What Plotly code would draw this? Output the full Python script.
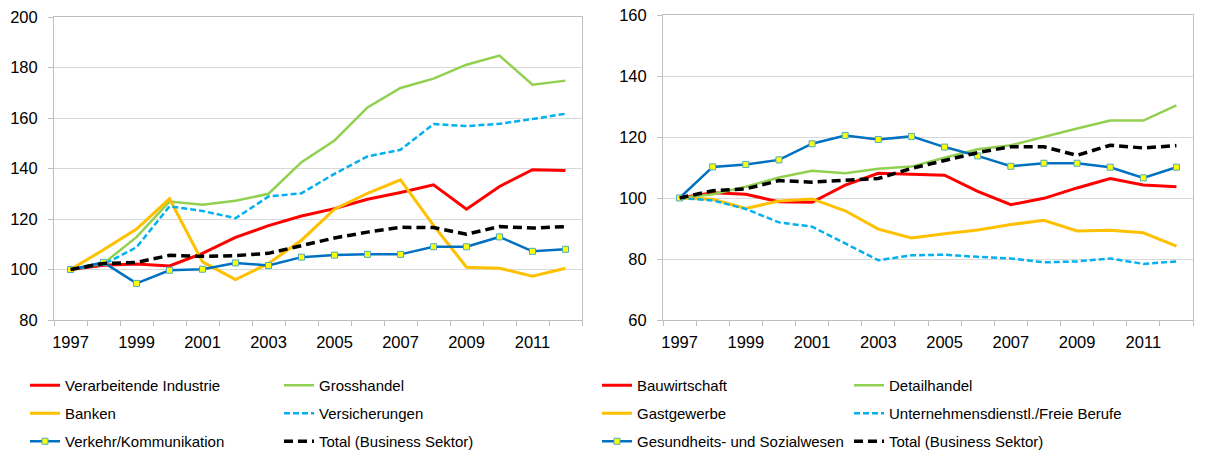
import plotly.graph_objects as go

years = list(range(1997, 2013))
tick_years = [1997, 1999, 2001, 2003, 2005, 2007, 2009, 2011]

# Left panel
verarbeitende = [100, 101.7, 102.2, 101.4, 106.4, 112.7, 117.4, 121.2, 124.1, 127.8, 130.5, 133.5, 123.9, 132.9, 139.5, 139.2]
grosshandel = [100, 102.4, 112.8, 126.9, 125.6, 127.2, 130.0, 142.5, 151.1, 164.2, 171.9, 175.6, 181.1, 184.7, 173.2, 174.8]
banken = [100, 107.8, 116.0, 128.0, 103.0, 96.0, 102.4, 111.6, 123.9, 130.2, 135.5, 117.5, 100.9, 100.5, 97.3, 100.5]
versicherungen = [100, 102.0, 108.8, 125.0, 123.2, 120.3, 128.9, 130.2, 137.9, 144.8, 147.4, 157.6, 156.8, 157.7, 159.6, 161.7]
verkehr = [100, 102.8, 94.5, 99.7, 100.1, 102.6, 101.6, 104.9, 105.7, 106.0, 106.0, 109.0, 109.0, 112.9, 107.2, 108.0]
total_left = [100, 102.4, 102.8, 105.6, 105.2, 105.5, 106.4, 109.6, 112.5, 114.8, 116.7, 116.6, 114.0, 117.0, 116.4, 117.0]

# Right panel
bauwirtschaft = [100, 101.7, 101.2, 98.8, 98.6, 104.2, 108.1, 107.7, 107.5, 102.2, 97.8, 99.9, 103.3, 106.4, 104.3, 103.7]
detailhandel = [100, 101.2, 103.7, 106.7, 108.9, 108.1, 109.6, 110.3, 113.2, 116.0, 117.3, 120.1, 122.8, 125.4, 125.4, 130.4]
gastgewerbe = [100, 99.6, 96.6, 99.0, 99.7, 95.8, 89.8, 86.9, 88.3, 89.5, 91.3, 92.7, 89.2, 89.4, 88.6, 84.2]
unternehmen = [100, 99.2, 96.4, 92.0, 90.6, 85.2, 79.6, 81.2, 81.4, 80.7, 80.2, 78.9, 79.2, 80.2, 78.4, 79.2]
gesundheit = [100, 110.2, 111.0, 112.5, 117.8, 120.5, 119.2, 120.2, 116.7, 113.8, 110.4, 111.4, 111.4, 110.1, 106.6, 110.1]
total_right = [100, 102.4, 103.0, 105.7, 105.2, 105.7, 106.4, 109.7, 112.2, 114.9, 116.8, 116.8, 114.0, 117.3, 116.4, 117.2]

FONT = "Liberation Sans, Arial, sans-serif"
FS = 15
TFS = 16.5
RED, GREEN, ORANGE, CYAN, BLUE = "#FF0000", "#92D050", "#FFC000", "#00B0F0", "#0070C0"

fig = go.Figure()


def add(name, y, color, width, dash, xa, ya, legend, markers=False):
    kw = dict(x=years, y=y, name=name, xaxis=xa, yaxis=ya, legend=legend,
              legendgroup=name + xa, line=dict(color=color, width=width, dash=dash))
    if markers:
        kw["mode"] = "lines+markers"
        kw["marker"] = dict(symbol="square", size=6, color="#FFFF00",
                            line=dict(color="#4BACC6", width=1))
    else:
        kw["mode"] = "lines"
    fig.add_trace(go.Scatter(**kw))


# left
add("Verarbeitende Industrie", verarbeitende, RED, 3, "solid", "x", "y", "legend")
add("Grosshandel", grosshandel, GREEN, 2.5, "solid", "x", "y", "legend2")
add("Banken", banken, ORANGE, 3, "solid", "x", "y", "legend")
add("Versicherungen", versicherungen, CYAN, 2.5, "6px,3px", "x", "y", "legend2")
add("Verkehr/Kommunikation", verkehr, BLUE, 2.5, "solid", "x", "y", "legend", markers=True)
add("Total (Business Sektor)", total_left, "#000000", 3.5, "9px,5px", "x", "y", "legend2")
# right
add("Bauwirtschaft", bauwirtschaft, RED, 3, "solid", "x2", "y2", "legend3")
add("Detailhandel", detailhandel, GREEN, 2.5, "solid", "x2", "y2", "legend4")
add("Gastgewerbe", gastgewerbe, ORANGE, 3, "solid", "x2", "y2", "legend3")
add("Unternehmensdienstl./Freie Berufe", unternehmen, CYAN, 2.5, "6px,3px", "x2", "y2", "legend4")
add("Gesundheits- und Sozialwesen", gesundheit, BLUE, 2.5, "solid", "x2", "y2", "legend3", markers=True)
add("Total (Business Sektor)", total_right, "#000000", 3.5, "9px,5px", "x2", "y2", "legend4")

L, R, T, B = 54, 13, 15, 130
W, H = 1206, 450
pw = W - L - R
ph = H - T - B


def px_x(p):
    return (p - L) / pw


def px_y(p):
    return (H - B - p) / ph


xcommon = dict(range=[1996.5, 2012.5], tickmode="array", tickvals=tick_years,
               ticktext=[str(v) for v in tick_years], ticks="", showgrid=False,
               showline=True, linecolor="#BFBFBF", linewidth=1, mirror=True,
               zeroline=False, tickfont=dict(family=FONT, size=TFS, color="#000"),
               ticklabelstandoff=7,
               minor=dict(tick0=1996.5, dtick=1, ticks="outside", ticklen=5,
                          tickcolor="#BFBFBF", showgrid=False))
ycommon = dict(dtick=20, showgrid=True, gridcolor="#D9D9D9", gridwidth=1,
               showline=True, linecolor="#BFBFBF", linewidth=1, mirror=True,
               zeroline=False, ticks="outside", ticklen=5, tickcolor="#BFBFBF",
               ticklabelstandoff=7,
               tickfont=dict(family=FONT, size=TFS, color="#000"))

leg = dict(font=dict(family=FONT, size=FS, color="#000"), bgcolor="rgba(0,0,0,0)",
           orientation="v", xanchor="left", yanchor="top", tracegroupgap=5.5,
           itemwidth=30)
ly = px_y(369)

fig.update_layout(
    width=W, height=H,
    margin=dict(l=L, r=R, t=T, b=B, autoexpand=False),
    paper_bgcolor="white", plot_bgcolor="white",
    font=dict(family=FONT, size=FS, color="#000"),
    xaxis=dict(domain=[0, px_x(582)], anchor="y", **xcommon),
    yaxis=dict(domain=[0, px_y(17)], anchor="x", range=[80, 200], **ycommon),
    xaxis2=dict(domain=[px_x(663), 1], anchor="y2", **xcommon),
    yaxis2=dict(domain=[0, 1], anchor="x2", range=[60, 160], **ycommon),
    legend=dict(x=px_x(25), y=ly, **leg),
    legend2=dict(x=px_x(279), y=ly, **leg),
    legend3=dict(x=px_x(597), y=ly, **leg),
    legend4=dict(x=px_x(849), y=ly, **leg),
)

fig.write_html("out.html", config={"displayModeBar": False},
               post_script="document.body.style.margin='0';document.body.style.padding='0';")
